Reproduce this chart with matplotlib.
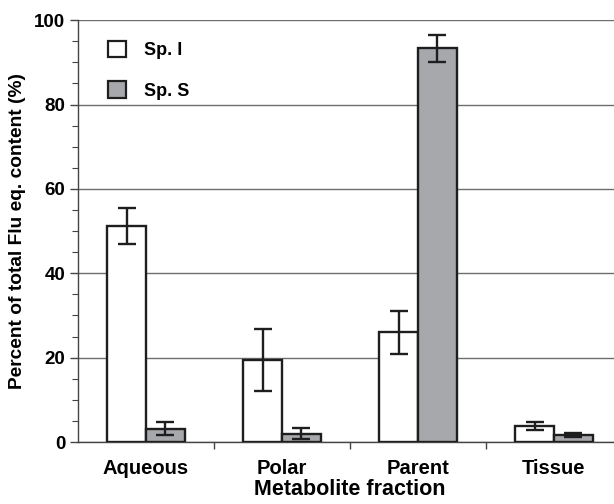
import numpy as np
import matplotlib
matplotlib.use("Agg")
import matplotlib.pyplot as plt

plt.rcParams['font.family'] = ['Liberation Sans', 'DejaVu Sans']
plt.rcParams['font.weight'] = 'bold'

# data
categories = ['Aqueous', 'Polar', 'Parent', 'Tissue']
sp_i = [51.2, 19.4, 26.0, 3.8]
sp_i_err = [4.2, 7.4, 5.1, 0.9]
sp_s = [3.2, 2.0, 93.4, 1.7]
sp_s_err = [1.6, 1.4, 3.2, 0.5]
y_ticks = [0, 20, 40, 60, 80, 100]

fig = plt.figure(figsize=(6.14, 5.04), dpi=100)
ax = fig.add_axes([0.127, 0.123, 0.886, 0.837])

x = np.arange(len(categories))
w = 0.286
edge = '#1e1e1e'
err_kw = dict(ecolor='#1e1e1e', elinewidth=1.7, capsize=6.5, capthick=1.7)

ax.bar(x - w / 2, sp_i, w, color='white', edgecolor=edge, linewidth=1.7,
       yerr=sp_i_err, error_kw=err_kw, label='Sp. I', zorder=3)
ax.bar(x + w / 2, sp_s, w, color='#a7a8ac', edgecolor=edge, linewidth=1.7,
       yerr=sp_s_err, error_kw=err_kw, label='Sp. S', zorder=3)

ax.set_xlim(-0.5, len(categories) - 0.5)
ax.set_ylim(0, 100)
ax.set_yticks(y_ticks)
ax.set_yticks(np.arange(0, 101, 5), minor=True)
ax.yaxis.grid(True, color='#6e6e6e', linewidth=1.0, zorder=0)
ax.set_axisbelow(True)

ax.set_xticks(x)
ax.set_xticklabels(categories)
ax.set_xticks(np.arange(0.5, len(categories) - 0.5, 1), minor=True)
ax.tick_params(axis='x', which='major', length=0, pad=12, labelsize=14.5)
ax.tick_params(axis='x', which='minor', length=5, width=1.0, color='#444444')
ax.tick_params(axis='y', which='major', length=6, width=1.0, color='#444444',
               labelsize=13.5, pad=3)
ax.tick_params(axis='y', which='minor', length=4, width=0.8, color='#444444')

for s in ['top', 'right']:
    ax.spines[s].set_visible(False)
for s in ['left', 'bottom']:
    ax.spines[s].set_color('#444444')
    ax.spines[s].set_linewidth(1.0)

ax.set_ylabel('Percent of total Flu eq. content (%)', fontsize=13.8,
              fontweight='bold', labelpad=6)
ax.set_xlabel('Metabolite fraction', fontsize=15.5, fontweight='bold',
              labelpad=1)

leg = ax.legend(loc='upper left', bbox_to_anchor=(0.025, 0.99), frameon=False,
                fontsize=13, handlelength=1.0, handleheight=1.0,
                labelspacing=1.25, handletextpad=1.0)
for h in leg.legend_handles:
    h.set_linewidth(1.6)

fig.savefig('out.png', dpi=100)
